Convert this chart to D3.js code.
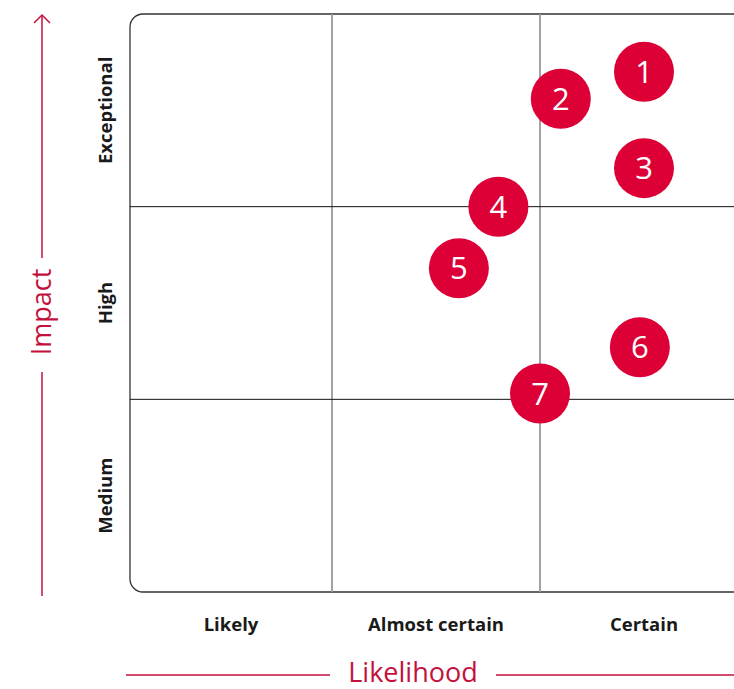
<!DOCTYPE html>
<html>
<head>
<meta charset="utf-8">
<script src="https://cdn.jsdelivr.net/npm/d3@7"></script>
<style>
  body { margin: 0; background: #fff; overflow: hidden; }
  svg { display: block; font-family: "Open Sans", "Noto Sans", sans-serif; }
</style>
</head>
<body>
<svg id="chart"></svg>
<script>
// 데이터
const likelihoodLabels = ["Likely", "Almost certain", "Certain"];
const impactLabels = ["Medium", "High", "Exceptional"];
const riskIds = [1, 2, 3, 4, 5, 6, 7];
const riskLikelihood = [2.50, 2.10, 2.50, 1.80, 1.61, 2.48, 2.00];
const riskImpact = [2.70, 2.56, 2.20, 2.00, 1.68, 1.27, 1.03];

const W = 734, H = 689;
const red = "#dc0036";
const axisRed = "#c4103e";

const svg = d3.select("#chart").attr("width", W).attr("height", H);

// 스케일 (열 너비가 조금씩 달라서 구간별로)
const x = d3.scaleLinear().domain([0, 1, 2, 3]).range([130, 332, 540, 748]);
const y = d3.scaleLinear().domain([0, 3]).range([592, 14]);

// 프레임
svg.append("rect")
    .attr("x", x(0)).attr("y", y(3))
    .attr("width", x(3) - x(0) + 20).attr("height", y(0) - y(3))
    .attr("rx", 13)
    .attr("fill", "none")
    .attr("stroke", "#333")
    .attr("stroke-width", 1.3);

// 그리드
svg.selectAll(".vgrid")
    .data([1, 2])
    .enter().append("line")
    .attr("x1", d => x(d)).attr("x2", d => x(d))
    .attr("y1", y(3)).attr("y2", y(0))
    .attr("stroke", "#999").attr("stroke-width", 1.8);

svg.selectAll(".hgrid")
    .data([1, 2])
    .enter().append("line")
    .attr("x1", x(0)).attr("x2", W + 20)
    .attr("y1", d => y(d)).attr("y2", d => y(d))
    .attr("stroke", "#111").attr("stroke-width", 1);

// 범주 레이블
svg.selectAll(".xlab")
    .data(likelihoodLabels)
    .enter().append("text")
    .attr("x", (d, i) => x(i + 0.5))
    .attr("y", 631)
    .attr("text-anchor", "middle")
    .attr("font-size", 18.5)
    .attr("font-weight", 700)
    .attr("fill", "#1a1a1a")
    .text(d => d);

svg.selectAll(".ylab")
    .data(impactLabels)
    .enter().append("text")
    .attr("transform", (d, i) => `translate(112,${y(i + 0.5)}) rotate(-90)`)
    .attr("text-anchor", "middle")
    .attr("font-size", 18.5)
    .attr("font-weight", 700)
    .attr("fill", "#1a1a1a")
    .text(d => d);

// 축 제목 - Impact
const ix = 42;
svg.append("line")
    .attr("x1", ix).attr("x2", ix).attr("y1", 15).attr("y2", 258)
    .attr("stroke", axisRed).attr("stroke-width", 1.5);
svg.append("path")
    .attr("d", `M${ix - 8},${23} L${ix},${15} L${ix + 8},${23}`)
    .attr("fill", "none").attr("stroke", axisRed).attr("stroke-width", 1.5);
svg.append("line")
    .attr("x1", ix).attr("x2", ix).attr("y1", 372).attr("y2", 596)
    .attr("stroke", axisRed).attr("stroke-width", 1.5);
svg.append("text")
    .attr("transform", `translate(${ix + 9},312) rotate(-90)`)
    .attr("text-anchor", "middle")
    .attr("font-size", 27)
    .attr("fill", axisRed)
    .text("Impact");

// 축 제목 - Likelihood
svg.append("line")
    .attr("x1", 126).attr("x2", 330).attr("y1", 675).attr("y2", 675)
    .attr("stroke", axisRed).attr("stroke-width", 1.5);
svg.append("line")
    .attr("x1", 496).attr("x2", W).attr("y1", 675).attr("y2", 675)
    .attr("stroke", axisRed).attr("stroke-width", 1.5);
svg.append("text")
    .attr("x", 413).attr("y", 682)
    .attr("text-anchor", "middle")
    .attr("font-size", 27)
    .attr("fill", axisRed)
    .text("Likelihood");

// 리스크 포인트
const risks = riskIds.map((id, i) => ({ id, lx: riskLikelihood[i], iy: riskImpact[i] }));
const pts = svg.selectAll(".risk")
    .data(risks)
    .enter().append("g")
    .attr("transform", d => `translate(${x(d.lx)},${y(d.iy)})`);

pts.append("circle")
    .attr("r", 30)
    .attr("fill", red);

pts.append("text")
    .attr("text-anchor", "middle")
    .attr("dy", "0.36em")
    .attr("font-size", 31)
    .attr("fill", "#fff")
    .text(d => d.id);
</script>
</body>
</html>
